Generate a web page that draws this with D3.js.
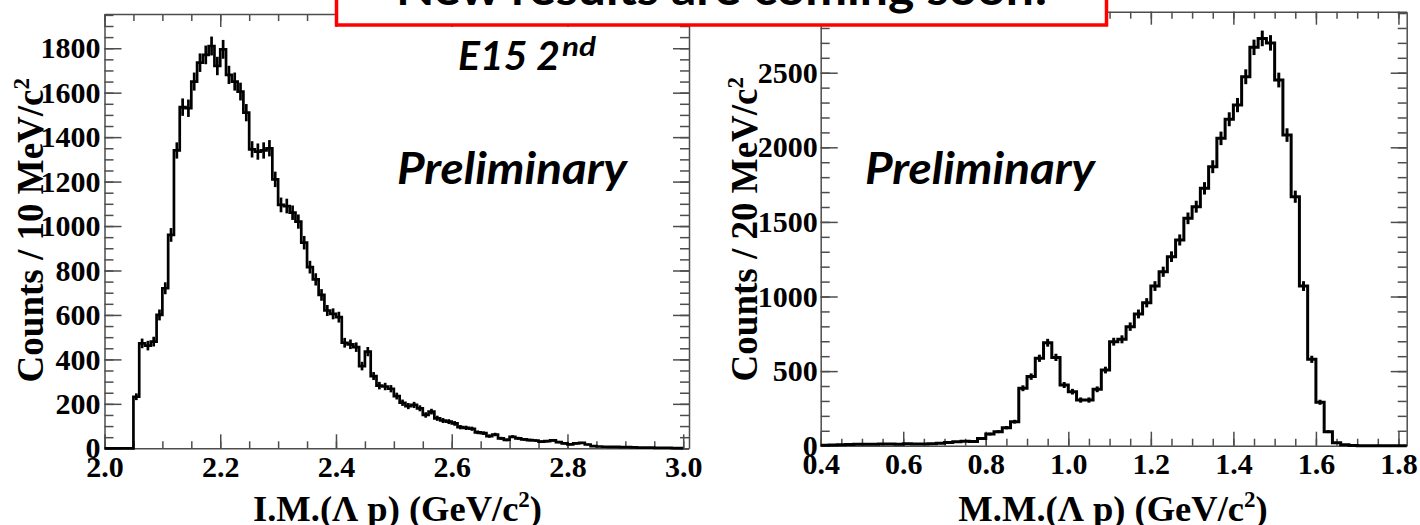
<!DOCTYPE html>
<html>
<head>
<meta charset="utf-8">
<script src="https://cdn.jsdelivr.net/npm/d3@7"></script>
<style>
  html, body { margin: 0; padding: 0; background: #fff; }
  svg { display: block; }
</style>
</head>
<body>
<svg id="chart" width="1420" height="525"></svg>
<script>
// Invariant mass of (Lambda p): 10 MeV/c^2 bins starting at 2.0 GeV/c^2
const imBinStart = 2.0;
const imBinWidth = 0.01;
const imCounts = [
  0, 0, 0, 0, 0, 232, 472, 462, 480, 600,
  720, 960, 1340, 1535, 1530, 1650, 1735, 1770, 1810, 1720,
  1795, 1680, 1650, 1605, 1510, 1345, 1335, 1340, 1350, 1210,
  1095, 1090, 1060, 1020, 925, 815, 760, 690, 620, 605,
  590, 475, 468, 455, 370, 435, 325, 282, 278, 268,
  235, 205, 190, 195, 180, 150, 165, 135, 125, 120,
  112, 95, 92, 88, 72, 68, 55, 62, 45, 38,
  52, 45, 40, 37, 35, 30, 32, 36, 28, 22,
  18, 22, 24, 17, 10, 8, 7, 6, 6, 5,
  5, 4, 3, 3, 3, 2, 2, 2, 1, 1
];

// Missing mass of (Lambda p): 20 MeV/c^2 bins starting at 0.4 GeV/c^2
const mmBinStart = 0.4;
const mmBinWidth = 0.02;
const mmCounts = [
  3, 4, 6, 8, 9, 10, 9, 11, 12, 10,
  13, 12, 12, 13, 16, 22, 26, 30, 28, 48,
  78, 94, 121, 161, 385, 463, 586, 690, 592, 407,
  362, 306, 306, 378, 507, 697, 713, 798, 883, 958,
  1070, 1166, 1267, 1379, 1524, 1602, 1725, 1870, 2060, 2188,
  2283, 2473, 2670, 2730, 2700, 2451, 2082, 1669, 1070, 579,
  291, 94, 20, 6, 1, 0, 0, 0, 0, 0,
  0
];

// Axis ranges and ticks
const imXDomain = [2.0, 3.01];
const imYDomain = [0, 1954];
const imXMajor = [2.0, 2.2, 2.4, 2.6, 2.8, 3.0];
const imXMinorStep = 0.05;
const imYMajor = [0, 200, 400, 600, 800, 1000, 1200, 1400, 1600, 1800];
const imYMinorStep = 50;

const mmXDomain = [0.4, 1.82];
const mmYDomain = [0, 2909];
const mmXMajor = [0.4, 0.6, 0.8, 1.0, 1.2, 1.4, 1.6, 1.8];
const mmXMinorStep = 0.05;
const mmYMajor = [0, 500, 1000, 1500, 2000, 2500];
const mmYMinorStep = 100;

const svg = d3.select("#chart");
const serif = "'Liberation Serif', 'Times New Roman', Times, serif";
const sans = "Lato, 'Open Sans', 'Liberation Sans', sans-serif";
const frameColor = "#4d4d4d";

function minorValues(domain, step) {
  const out = [];
  const n = Math.floor((domain[1] - domain[0]) / step + 1e-6);
  for (let k = 0; k <= n; k++) out.push(+(domain[0] + k * step).toFixed(4));
  return out;
}

function drawPanel(p) {
  const x = d3.scaleLinear().domain(p.xDomain).range([p.left, p.right]);
  const y = d3.scaleLinear().domain(p.yDomain).range([p.bottom, p.top]);
  const g = svg.append("g");

  const styleAxis = (sel, keepDomain) => {
    sel.selectAll(".tick line").attr("stroke", frameColor).attr("stroke-width", 1.5);
    sel.select(".domain").attr("stroke", frameColor).attr("stroke-width", 1.5);
    if (!keepDomain) sel.select(".domain").remove();
    sel.selectAll("text")
      .attr("font-family", serif)
      .attr("font-weight", "bold")
      .attr("font-size", 30)
      .attr("fill", "#000");
  };

  const xMinor = minorValues([p.xDomain[0], p.xMajor[p.xMajor.length - 1]], p.xMinorStep);
  const yMinor = minorValues([0, p.yDomain[1]], p.yMinorStep);

  // bottom
  g.append("g").attr("transform", `translate(0,${p.bottom})`)
    .call(d3.axisBottom(x).tickValues(xMinor).tickSize(-7).tickSizeOuter(0).tickFormat(""))
    .call(s => styleAxis(s, false));
  g.append("g").attr("transform", `translate(0,${p.bottom})`)
    .call(d3.axisBottom(x).tickValues(p.xMajor).tickSize(-14).tickSizeOuter(0)
      .tickPadding(7.5).tickFormat(d3.format(".1f")))
    .call(s => styleAxis(s, true));
  // top
  g.append("g").attr("transform", `translate(0,${p.top})`)
    .call(d3.axisTop(x).tickValues(xMinor).tickSize(-7).tickSizeOuter(0).tickFormat(""))
    .call(s => styleAxis(s, false));
  g.append("g").attr("transform", `translate(0,${p.top})`)
    .call(d3.axisTop(x).tickValues(p.xMajor).tickSize(-13).tickSizeOuter(0).tickFormat(""))
    .call(s => styleAxis(s, true));
  // left
  g.append("g").attr("transform", `translate(${p.left},0)`)
    .call(d3.axisLeft(y).tickValues(yMinor).tickSize(-9).tickSizeOuter(0).tickFormat(""))
    .call(s => styleAxis(s, false));
  g.append("g").attr("transform", `translate(${p.left},0)`)
    .call(d3.axisLeft(y).tickValues(p.yMajor).tickSize(-17).tickSizeOuter(0)
      .tickPadding(p.yPad).tickFormat(d3.format("d")))
    .call(s => styleAxis(s, true));
  // right
  g.append("g").attr("transform", `translate(${p.right},0)`)
    .call(d3.axisRight(y).tickValues(yMinor).tickSize(-9).tickSizeOuter(0).tickFormat(""))
    .call(s => styleAxis(s, false));
  g.append("g").attr("transform", `translate(${p.right},0)`)
    .call(d3.axisRight(y).tickValues(p.yMajor).tickSize(-16).tickSizeOuter(0).tickFormat(""))
    .call(s => styleAxis(s, true));

  // histogram outline
  const pts = p.counts.map((c, i) => [p.binStart + i * p.binWidth, c]);
  pts.push([p.binStart + p.counts.length * p.binWidth, p.counts[p.counts.length - 1]]);
  const line = d3.line().x(d => x(d[0])).y(d => y(d[1])).curve(d3.curveStepAfter);
  g.append("path").attr("d", line(pts))
    .attr("fill", "none").attr("stroke", "#000")
    .attr("stroke-width", p.lineWidth).attr("stroke-linejoin", "miter");

  // statistical error bars at bin centres
  g.append("g").selectAll("line")
    .data(p.counts.map((c, i) => ({ c, xc: p.binStart + (i + 0.5) * p.binWidth })).filter(d => d.c > 0))
    .join("line")
    .attr("x1", d => x(d.xc)).attr("x2", d => x(d.xc))
    .attr("y1", d => y(Math.max(0, d.c - Math.sqrt(d.c))))
    .attr("y2", d => y(d.c + Math.sqrt(d.c)))
    .attr("stroke", "#000").attr("stroke-width", p.lineWidth);

  // axis titles
  const xt = g.append("text")
    .attr("x", p.xTitleX).attr("y", p.xTitleY)
    .attr("text-anchor", "middle")
    .attr("font-family", serif).attr("font-weight", "bold").attr("font-size", 36.5)
    .attr("fill", "#000");
  xt.append("tspan").text(p.xTitle + " (GeV/c");
  xt.append("tspan").attr("dy", -14).attr("font-size", 23).text("2");
  xt.append("tspan").attr("dy", 14).text(")");

  const yt = g.append("text")
    .attr("transform", `translate(${p.yTitleX},${p.yTitleY}) rotate(-90)`)
    .attr("text-anchor", "end")
    .attr("font-family", serif).attr("font-weight", "bold").attr("font-size", 37)
    .attr("fill", "#000");
  yt.append("tspan").text(p.yTitle);
  yt.append("tspan").attr("dy", -14).attr("font-size", 23).text("2");

  // watermark
  g.append("text")
    .attr("x", p.prelimX).attr("y", 184)
    .attr("font-family", sans).attr("font-weight", "bold").attr("font-style", "italic")
    .attr("font-size", 43).attr("fill", "#000")
    .attr("textLength", 230).attr("lengthAdjust", "spacingAndGlyphs")
    .text("Preliminary");
}

drawPanel({
  counts: imCounts, binStart: imBinStart, binWidth: imBinWidth,
  xDomain: imXDomain, yDomain: imYDomain,
  xMajor: imXMajor, xMinorStep: imXMinorStep,
  yMajor: imYMajor, yMinorStep: imYMinorStep,
  left: 104.5, right: 689, top: 14, bottom: 448.3,
  yPad: 4, lineWidth: 2.7,
  xTitle: "I.M.(\u039B p)", xTitleX: 397.5, xTitleY: 521,
  yTitle: "Counts / 10 MeV/c", yTitleX: 42.5, yTitleY: 78,
  prelimX: 397
});

drawPanel({
  counts: mmCounts, binStart: mmBinStart, binWidth: mmBinWidth,
  xDomain: mmXDomain, yDomain: mmYDomain,
  xMajor: mmXMajor, xMinorStep: mmXMinorStep,
  yMajor: mmYMajor, yMinorStep: mmYMinorStep,
  left: 820.7, right: 1406.7, top: 11.7, bottom: 445.7,
  yPad: 3, lineWidth: 3,
  xTitle: "M.M.(\u039B p)", xTitleX: 1113, xTitleY: 521,
  yTitle: "Counts / 20 MeV/c", yTitleX: 756.5, yTitleY: 77,
  prelimX: 865
});

// run label
svg.append("text")
  .attr("x", 458).attr("y", 70)
  .attr("font-family", sans).attr("font-weight", "bold").attr("font-style", "italic")
  .attr("font-size", 40).attr("fill", "#000")
  .attr("textLength", 102).attr("lengthAdjust", "spacingAndGlyphs")
  .text("E15 2");
svg.append("text")
  .attr("x", 562).attr("y", 56)
  .attr("font-family", sans).attr("font-weight", "bold").attr("font-style", "italic")
  .attr("font-size", 26).attr("fill", "#000")
  .attr("textLength", 34).attr("lengthAdjust", "spacingAndGlyphs")
  .text("nd");

// announcement banner
svg.append("rect")
  .attr("x", 336.5).attr("y", -20).attr("width", 770).attr("height", 45)
  .attr("fill", "#fff").attr("stroke", "#ff0000").attr("stroke-width", 3.5);
svg.append("text")
  .attr("x", 396).attr("y", 5)
  .attr("font-family", sans).attr("font-weight", "bold")
  .attr("font-size", 46).attr("fill", "#000")
  .attr("textLength", 652).attr("lengthAdjust", "spacingAndGlyphs")
  .text("New results are coming soon!");
</script>
</body>
</html>
